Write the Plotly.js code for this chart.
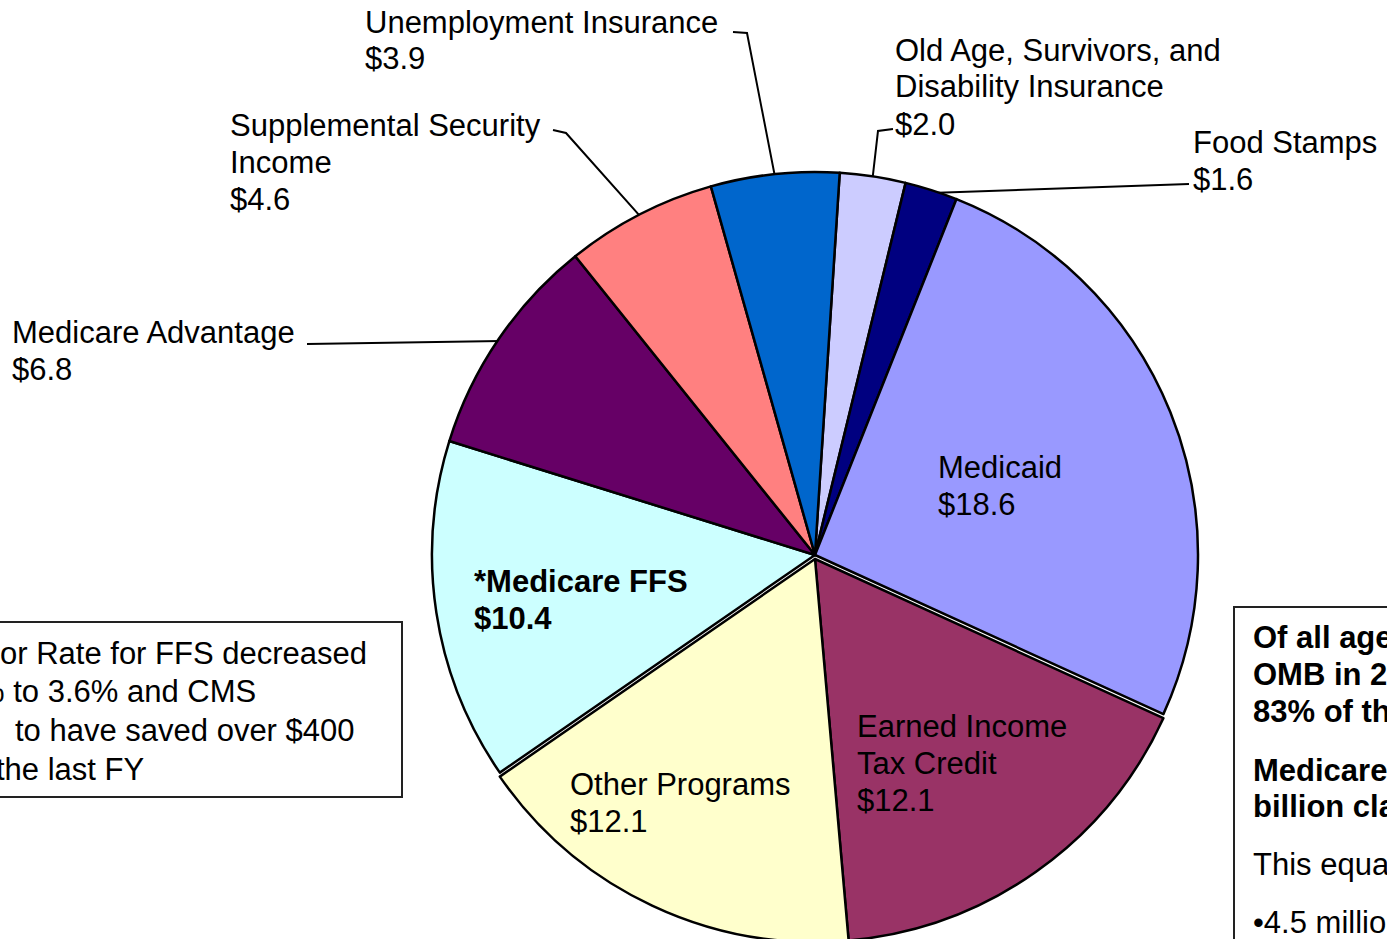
<!DOCTYPE html>
<html><head><meta charset="utf-8">
<script src="https://cdn.plot.ly/plotly-3.0.1.min.js"></script>
<style>html,body{margin:0;padding:0;overflow:hidden;background:#fff}#chart{width:1387px;height:1000px}</style>
</head><body><div id="chart"></div>
<script>
// ---- data ----
const programs = ["Old Age, Survivors, and Disability Insurance","Food Stamps","Medicaid","Earned Income Tax Credit","Other Programs","*Medicare FFS","Medicare Advantage","Supplemental Security Income","Unemployment Insurance"];
const labelLines = [["Old Age, Survivors, and","Disability Insurance"],["Food Stamps"],["Medicaid"],["Earned Income","Tax Credit"],["Other Programs"],["*Medicare FFS"],["Medicare Advantage"],["Supplemental Security","Income"],["Unemployment Insurance"]];
const improperPayments = [2.0, 1.6, 18.6, 12.1, 12.1, 10.4, 6.8, 4.6, 3.9];
const sliceColors = ["#CCCCFF","#000080","#9999FF","#993366","#FFFFCC","#CCFFFF","#660066","#FF8080","#0066CC"];
const leftBoxLines = ["or Rate for FFS decreased","% to 3.6% and CMS","to have saved over $400","the last FY"];
const rightBoxLines = ["Of all agencies","OMB in 20","83% of the","Medicare","billion claims","This equals","\u20224.5 million"];

// ---- layout constants (pixels) ----
const W = 1387, H = 1000;
const CX = 815, CY = 555, R = 383, ROT = 3.7, LS = 37;
const SHIFT = 4;                         // the exploded group (EITC + Other Programs) moves down
const exploded = [false,false,false,true,true,false,false,false,false];
const FONT = "Liberation Sans, Arial, sans-serif";
const FS = 31;
const labelPos = [[895,50],[1193,142],[938,467],[857,726],[570,784],[474,581],[12,332],[230,125],[365,22]];
const labelBold = [false,false,false,false,false,true,false,false,false];
const leaders = {0:[[893,129],[878,131]], 1:[[1189,184]], 6:[[307,344]], 7:[[553,130],[566,133]], 8:[[733,32],[747,33]]};
const leftBoxPos = [[0,653],[-23,691],[15,730],[-4,769]];
const rightBoxY = [637,674,711,770,806,864,922];

const px = x => x / W, py = y => 1 - y / H;
const total = improperPayments.reduce((a,b)=>a+b,0);

const annotations = [];
const shapes = [];

function txt(x, y, t, bold){
  annotations.push({xref:'paper', yref:'paper', x:px(x), y:py(y), xanchor:'left', yanchor:'middle',
    text: bold ? '<b>'+t+'</b>' : t, showarrow:false, borderpad:0, borderwidth:0,
    font:{family:FONT, size:FS, color:'#000'}});
}

let cum = 0;
improperPayments.forEach((v,i)=>{
  const lines = labelLines[i].concat(['$' + v.toFixed(1)]);
  lines.forEach((l,k)=> txt(labelPos[i][0], labelPos[i][1] + k*LS, l, labelBold[i]));
  const mid = (ROT + (cum + v/2) / total * 360) * Math.PI / 180;
  cum += v;
  if (leaders[i]) {
    const pts = leaders[i].concat([[CX + (R-3)*Math.sin(mid), CY - (R-3)*Math.cos(mid)]]);
    const path = pts.map((p,k)=> (k? 'L':'M') + px(p[0]) + ',' + py(p[1])).join(' ');
    shapes.push({type:'path', xref:'paper', yref:'paper', path:path, layer:'below', line:{color:'#000', width:2}});
  }
});

// left text box
shapes.push({type:'rect', xref:'paper', yref:'paper', x0:px(-10), x1:px(402), y0:py(622), y1:py(797), line:{color:'#222', width:2}, fillcolor:'#fff', layer:'below'});
leftBoxLines.forEach((l,k)=> txt(leftBoxPos[k][0], leftBoxPos[k][1], l, false));
// right text box
shapes.push({type:'rect', xref:'paper', yref:'paper', x0:px(1234), x1:px(1420), y0:py(607), y1:py(990), line:{color:'#222', width:2}, fillcolor:'#fff', layer:'below'});
rightBoxLines.forEach((l,k)=> txt(1253, rightBoxY[k], l, k < 5));

function pieTrace(showExploded, cy){
  return {
    type:'pie', labels:programs, values:improperPayments, sort:false, direction:'clockwise', rotation:ROT,
    marker:{
      colors: sliceColors.map((c,i)=> exploded[i] === showExploded ? c : 'rgba(0,0,0,0)'),
      line:{color:'#000', width: exploded.map(e => e === showExploded ? 2.5 : 0)}
    },
    textinfo:'none', hoverinfo:'label+value', showlegend:false,
    domain:{x:[px(CX-R), px(CX+R)], y:[py(cy+R), py(cy-R)]}
  };
}

Plotly.newPlot('chart', [pieTrace(false, CY), pieTrace(true, CY + SHIFT)], {
  width:W, height:H, margin:{l:0,r:0,t:0,b:0}, paper_bgcolor:'#fff',
  showlegend:false, annotations:annotations, shapes:shapes
}, {staticPlot:true});
</script></body></html>
